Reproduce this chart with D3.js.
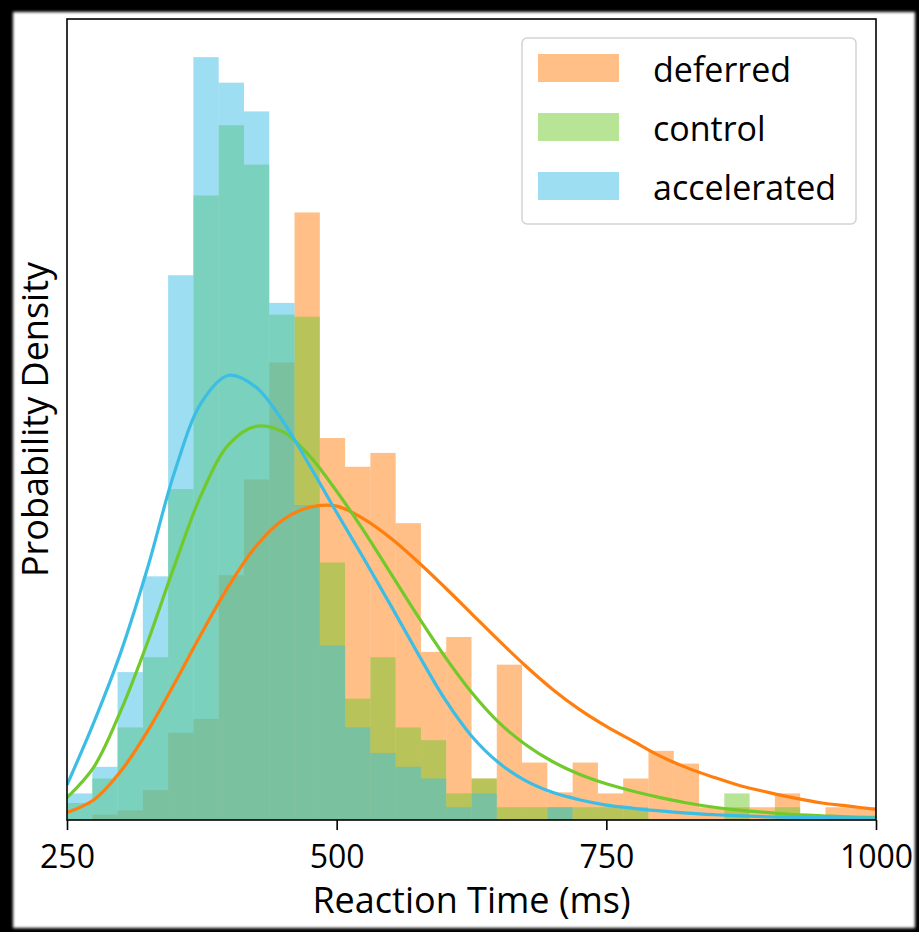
<!DOCTYPE html>
<html>
<head>
<meta charset="utf-8">
<script src="https://cdn.jsdelivr.net/npm/d3@7"></script>
<style>
  html, body { margin: 0; padding: 0; background: #000; }
  svg { display: block; }
  text { font-family: "Open Sans", sans-serif; fill: #000; }
</style>
</head>
<body>
<svg id="chart" width="919" height="932"></svg>
<script>
// histogram bins: 32 equal bins between 250 and 1000 ms
const binStart = 250;
const binEnd = 1000;
const binCount = 32;

const seriesNames = ["deferred", "control", "accelerated"];
const seriesColors = ["#ff7f0e", "#72c92c", "#3bbde6"];

// densities (x 1e-3 per ms), one value per bin
const deferredBins = [0, 0.05, 0.09, 0.28, 0.82, 0.95, 2.3, 3.2, 4.3, 5.71, 3.59, 3.32, 3.45, 2.79, 1.58, 1.72,
  0.39, 1.46, 0.54, 0.26, 0.54, 0.25, 0.39, 0.65, 0.53, 0.12, 0.12, 0.12, 0.25, 0, 0.12, 0.12];
const controlBins = [0.16, 0.39, 0.87, 1.53, 3.11, 5.87, 6.53, 6.16, 4.75, 4.73, 2.42, 1.14, 1.53, 0.87, 0.75, 0.25,
  0.39, 0.12, 0.12, 0.12, 0.12, 0.12, 0.12, 0, 0, 0, 0.25, 0, 0.12, 0, 0, 0];
const acceleratedBins = [0.25, 0.5, 1.39, 2.29, 5.12, 7.17, 6.93, 6.66, 4.86, 2.96, 1.64, 0.87, 0.63, 0.5, 0.39, 0.12,
  0.25, 0, 0, 0.12, 0, 0, 0, 0, 0, 0, 0, 0, 0, 0, 0, 0];

// fitted density curves, sampled every 25 ms (curveMs)
const curveMs = [250, 275, 300, 325, 350, 375, 400, 425, 450, 475, 500, 525, 550, 575, 600, 625, 650, 675, 700,
  725, 750, 775, 800, 825, 850, 875, 900, 925, 950, 975, 1000];
const deferredCurve = [0.07, 0.19, 0.46, 0.84, 1.29, 1.76, 2.2, 2.57, 2.82, 2.94, 2.95, 2.83, 2.65, 2.43, 2.19,
  1.94, 1.69, 1.45, 1.23, 1.04, 0.88, 0.74, 0.6, 0.49, 0.4, 0.32, 0.26, 0.205, 0.16, 0.13, 0.1];
const controlCurve = [0.21, 0.5, 1.03, 1.68, 2.4, 3.07, 3.53, 3.7, 3.65, 3.42, 3.09, 2.72, 2.32, 1.92, 1.54,
  1.2, 0.92, 0.71, 0.55, 0.43, 0.34, 0.27, 0.21, 0.16, 0.12, 0.09, 0.07, 0.05, 0.04, 0.03, 0.025];
const acceleratedCurve = [0.33, 0.92, 1.58, 2.38, 3.28, 3.93, 4.18, 4.07, 3.75, 3.33, 2.89, 2.46, 2.02, 1.57, 1.14,
  0.79, 0.54, 0.37, 0.26, 0.19, 0.14, 0.11, 0.085, 0.065, 0.05, 0.038, 0.03, 0.025, 0.022, 0.02, 0.018];

const xTicks = [250, 500, 750, 1000];
const xLabel = "Reaction Time (ms)";
const yLabel = "Probability Density";

const dms = { width: 919, height: 932, left: 67, right: 876, top: 19, bottom: 820 };

// 1. Access data
const binWidth = (binEnd - binStart) / binCount;
const histData = [deferredBins, controlBins, acceleratedBins];
const curveData = [deferredCurve, controlCurve, acceleratedCurve];

const svg = d3.select("#chart");

// 2. Frame (black border around a white page)
const defs = svg.append("defs");
defs.append("filter").attr("id", "soft")
  .append("feGaussianBlur").attr("stdDeviation", 1.6);

svg.append("rect").attr("width", dms.width).attr("height", dms.height).attr("fill", "#000");
svg.append("rect")
  .attr("x", 13).attr("y", 12).attr("width", 902).attr("height", 916)
  .attr("fill", "#fff").attr("filter", "url(#soft)");

// 3. Scales
const xScale = d3.scaleLinear().domain([binStart, binEnd]).range([dms.left, dms.right]);
const allValues = histData.flat().concat(curveData.flat());
const yScale = d3.scaleLinear().domain([0, d3.max(allValues) * 1.05]).range([dms.bottom, dms.top]);

defs.append("clipPath").attr("id", "plot-clip")
  .append("rect")
  .attr("x", dms.left).attr("y", dms.top)
  .attr("width", dms.right - dms.left).attr("height", dms.bottom - dms.top);

const bounds = svg.append("g").attr("clip-path", "url(#plot-clip)");

// 4. Histograms
histData.forEach((bins, si) => {
  bounds.append("g")
    .attr("class", "hist " + seriesNames[si])
    .selectAll("rect")
    .data(bins)
    .enter()
    .append("rect")
    .attr("x", (d, i) => xScale(binStart + i * binWidth))
    .attr("width", (d, i) => xScale(binStart + (i + 1) * binWidth) - xScale(binStart + i * binWidth))
    .attr("y", (d) => yScale(d))
    .attr("height", (d) => yScale(0) - yScale(d))
    .attr("fill", seriesColors[si])
    .attr("fill-opacity", 0.5);
});

// 5. Fitted curves
const lineGenerator = d3.line()
  .x((d, i) => xScale(curveMs[i]))
  .y((d) => yScale(d))
  .curve(d3.curveCatmullRom.alpha(0.5));

curveData.forEach((values, si) => {
  bounds.append("path")
    .attr("class", "curve " + seriesNames[si])
    .attr("d", lineGenerator(values))
    .attr("fill", "none")
    .attr("stroke", seriesColors[si])
    .attr("stroke-width", 3.2)
    .attr("stroke-linejoin", "round");
});

// 6. Axes and frame
svg.append("rect")
  .attr("x", dms.left).attr("y", dms.top)
  .attr("width", dms.right - dms.left).attr("height", dms.bottom - dms.top)
  .attr("fill", "none").attr("stroke", "#000").attr("stroke-width", 1.6);

const xAxis = svg.append("g")
  .attr("transform", `translate(0, ${dms.bottom})`)
  .call(d3.axisBottom(xScale).tickValues(xTicks).tickSize(10).tickPadding(15).tickFormat(d3.format("d")));
xAxis.select(".domain").remove();
xAxis.selectAll(".tick line").attr("stroke", "#000").attr("stroke-width", 1.6);
xAxis.selectAll(".tick text")
  .attr("font-family", "'Open Sans', sans-serif")
  .attr("font-size", 32)
  .attr("fill", "#000");

svg.append("text")
  .attr("x", (dms.left + dms.right) / 2)
  .attr("y", 913)
  .attr("text-anchor", "middle")
  .attr("font-size", 36)
  .text(xLabel);

svg.append("text")
  .attr("transform", `translate(48, ${(dms.top + dms.bottom) / 2}) rotate(-90)`)
  .attr("text-anchor", "middle")
  .attr("font-size", 36)
  .text(yLabel);

// 7. Legend
const legend = svg.append("g").attr("class", "legend");
legend.append("rect")
  .attr("x", 522).attr("y", 38).attr("width", 334).attr("height", 186)
  .attr("rx", 5)
  .attr("fill", "#fff").attr("fill-opacity", 0.8)
  .attr("stroke", "#d3d3d3").attr("stroke-width", 1.5);

const legendRows = legend.selectAll(".row")
  .data(seriesNames)
  .enter()
  .append("g")
  .attr("class", "row")
  .attr("transform", (d, i) => `translate(538, ${54 + i * 59})`);

legendRows.append("rect")
  .attr("width", 81).attr("height", 28)
  .attr("fill", (d, i) => seriesColors[i])
  .attr("fill-opacity", 0.5);

legendRows.append("text")
  .attr("x", 115).attr("y", 28)
  .attr("font-size", 34)
  .text((d) => d);
</script>
</body>
</html>
